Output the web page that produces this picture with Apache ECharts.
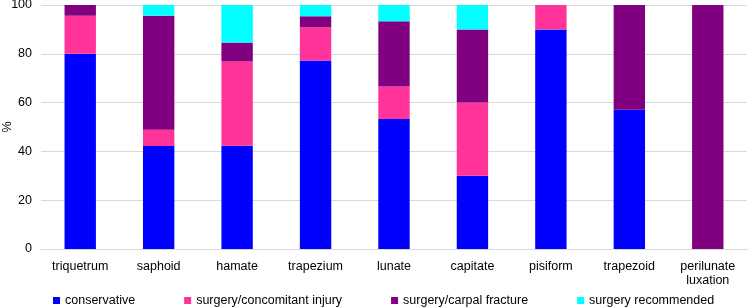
<!DOCTYPE html>
<html>
<head>
<meta charset="utf-8">
<script src="https://cdn.jsdelivr.net/npm/echarts@6/dist/echarts.min.js"></script>
<style>html,body{margin:0;padding:0;background:#fff;}#main{width:749px;height:307px;}</style>
</head>
<body>
<div id="main"></div>
<script>
// categories and shares (%)
var bones = ['triquetrum', 'saphoid', 'hamate', 'trapezium', 'lunate', 'capitate', 'pisiform', 'trapezoid', 'perilunate\nluxation'];
var conservative = [80.0, 42.2, 42.3, 77.3, 53.3, 30, 90, 57.1, 0];
var concomitant = [15.6, 6.7, 34.6, 13.6, 13.3, 30, 10, 0, 0];
var carpalFracture = [4.4, 46.7, 7.7, 4.5, 26.7, 30, 0, 42.9, 100];
var recommended = [0, 4.4, 15.4, 4.6, 6.7, 10, 0, 0, 0];
var yTicks = [0, 20, 40, 60, 80, 100];

var font = 'Liberation Sans, Arial, sans-serif';
var myChart = echarts.init(document.getElementById('main'));

function bar(name, data, color) {
	return { name: name, type: 'bar', stack: 'all', data: data, barCategoryGap: '60%',
		itemStyle: { color: color } };
}

var option = {
	animation: false,
	grid: { left: 41, right: 2, top: 5, bottom: 58, outerBoundsMode: 'none', containLabel: false },
	legend: {
		left: 48, top: 289, itemWidth: 7, itemHeight: 7, itemGap: 49, icon: 'rect',
		textStyle: { fontFamily: font, fontSize: 12.5, color: '#000' },
		data: ['conservative', 'surgery/concomitant injury', 'surgery/carpal fracture', 'surgery recommended']
	},
	xAxis: {
		type: 'category', data: bones,
		axisLine: { lineStyle: { color: '#d9d9d9' } },
		axisTick: { show: false },
		axisLabel: { fontFamily: font, fontSize: 12.5, color: '#000', margin: 11, lineHeight: 14, interval: 0 }
	},
	yAxis: {
		type: 'value', min: 0, max: 100, interval: 20,
		name: '%', nameLocation: 'middle', nameGap: 27, nameRotate: 90, nameMoveOverlap: false,
		nameTextStyle: { fontFamily: font, fontSize: 12.5, color: '#000' },
		axisLine: { show: false }, axisTick: { show: false },
		axisLabel: { fontFamily: font, fontSize: 12.5, color: '#000', margin: 9,
			formatter: function (v) { return yTicks.indexOf(v) >= 0 ? v : ''; } },
		splitLine: { lineStyle: { color: '#d9d9d9' } }
	},
	series: [
		bar('conservative', conservative, '#0000ff'),
		bar('surgery/concomitant injury', concomitant, '#ff3399'),
		bar('surgery/carpal fracture', carpalFracture, '#800080'),
		bar('surgery recommended', recommended, '#00ffff')
	]
};
myChart.setOption(option);
window.onresize = myChart.resize;
</script>
</body>
</html>
